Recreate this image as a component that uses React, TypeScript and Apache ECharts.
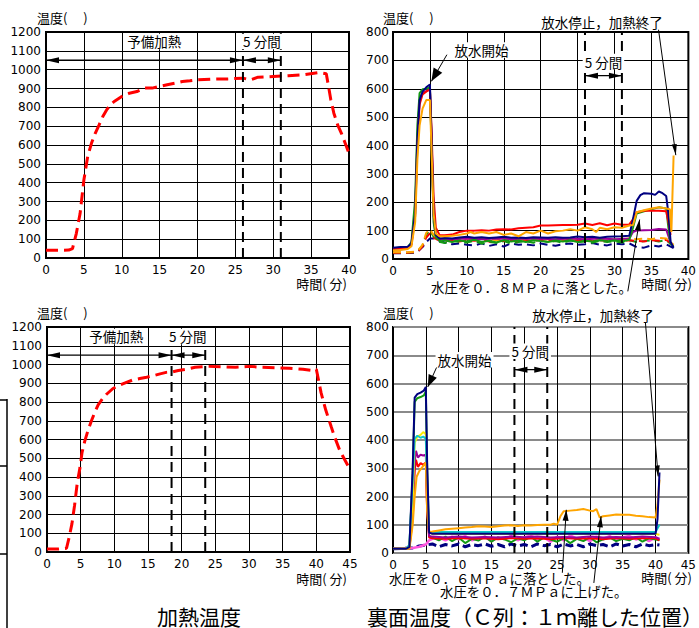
import React, { useEffect, useRef } from "react";
import * as echarts from "echarts";

// ---------- data ----------
const xTicks40 = [0, 40];
const xTicks45 = [0, 45];
const yHeatMax = 1200;
const yBackMax = 800;

// 加熱温度 (top, 40 min test)
const heatA: number[][] = [[0,41],[1,41],[2,41],[3,42],[3.5,50],[4,130],[4.5,236],[5,414],[5.5,538],[6,609],[6.5,662],[7,706],[7.5,751],[8,786],[8.5,813],[9,831],[10,857],[11,875],[12,884],[13,902],[14,902],[15,911],[16,920],[17,928],[18,937],[19,941],[20,946],[22,950],[24,951],[26,955],[27,946],[28,960],[30,964],[32,968],[34,973],[36,985],[37,978],[37.3,911],[37.6,840],[38,769],[38.5,707],[39,662],[39.5,609],[40,556]];
// 加熱温度 (bottom, 45 min test)
const heatB: number[][] = [[0,16],[1.6,16],[2.9,20],[3.3,80],[3.7,150],[4.1,250],[4.5,370],[4.9,450],[5.2,530],[5.6,590],[6.1,650],[6.6,700],[7.1,745],[7.6,785],[8.2,815],[8.8,840],[9.8,872],[10.8,890],[11.8,905],[12.8,918],[13.8,925],[14.8,932],[15.8,940],[16.8,950],[17.7,958],[18.5,960],[19.5,968],[20.7,975],[22,985],[24,990],[26,988],[28,985],[30,990],[32,985],[34,983],[36,980],[38,975],[39.5,968],[40,975],[40.7,850],[41.4,757],[42.2,669],[42.7,615],[43.5,540],[44.7,460],[45,450]];

// 裏面温度 (top, 0.8MPa)
const trNavy: number[][] = [[0,40],[1,42],[2,43],[2.5,55],[3,160],[3.3,420],[3.6,560],[4,590],[4.5,605],[5,615],[5.2,450],[5.5,160],[5.8,85],[6.3,72],[7,74],[8,72],[9,76],[10,78],[11,75],[12,77],[13,74],[14,76],[15,78],[16,75],[17,76],[18,74],[19,77],[20,76],[21,75],[22,77],[23,75],[24,76],[25,79],[26,77],[27,78],[28,75],[29,78],[30,79],[31,80],[32,82],[32.5,140],[33,205],[33.5,225],[34,232],[35,230],[35.5,226],[36,238],[36.5,232],[37,222],[37.3,160],[37.6,60],[38,40]];
const trRed: number[][] = [[0,36],[1,38],[2,40],[2.5,50],[3,150],[3.3,400],[3.6,545],[4,580],[4.5,590],[5,598],[5.2,470],[5.5,220],[5.8,110],[6.3,85],[7,84],[8,86],[9,95],[10,100],[11,100],[12,101],[13,100],[14,104],[15,105],[16,104],[17,108],[18,110],[19,112],[20,118],[21,118],[22,119],[23,120],[24,120],[25,121],[26,125],[27,120],[28,126],[29,119],[30,125],[31,121],[32,122],[32.5,140],[33,165],[34,170],[35,170],[36,170],[37,168],[37.3,130],[37.6,85]];
const trGreen: number[][] = [[0,38],[1,40],[2,42],[2.5,60],[3,210],[3.3,470],[3.6,585],[4,598],[4.5,600],[5,605],[5.2,420],[5.5,130],[5.8,75],[6.5,62],[7,66],[8,60],[9,65],[10,62],[11,68],[12,60],[13,64],[14,58],[15,66],[16,62],[17,65],[18,60],[19,66],[20,63],[21,60],[22,65],[23,62],[24,66],[25,60],[26,64],[27,62],[28,66],[29,63],[30,65],[31,62],[32,68],[32.5,110],[33,160],[34,168],[35,175],[36,182],[37,178],[37.3,110],[37.6,50]];
const trPurple: number[][] = [[0,36],[1,38],[2,41],[2.5,52],[3,180],[3.3,430],[3.6,560],[4,585],[4.5,592],[5,598],[5.2,440],[5.5,150],[5.8,80],[6.5,70],[8,70],[10,72],[12,70],[14,72],[16,70],[18,72],[20,71],[22,70],[24,72],[26,70],[28,72],[30,70],[32,72],[32.5,95],[33,100],[34,101],[35,102],[36,106],[37,104],[37.3,80],[37.6,55]];
const trOrange: number[][] = [[0,30],[1,32],[2,35],[2.5,45],[3,130],[3.3,350],[3.6,470],[4,530],[4.5,560],[5,560],[5.2,400],[5.5,160],[5.8,90],[6.3,80],[7,80],[8,82],[9,85],[10,90],[10.5,95],[11,90],[12,95],[13,90],[14,95],[15,85],[16,90],[17,80],[18,95],[19,90],[20,100],[21,90],[22,98],[23,100],[24,105],[25,100],[26,112],[27,105],[27.5,95],[28,110],[29,105],[30,112],[31,110],[32,118],[32.5,120],[33,165],[34,172],[35,178],[36,182],[37,178],[37.5,175],[37.7,95],[38,365]];
const trNavyD: number[][] = [[0,20],[1,20],[2,21],[3,22],[3.5,30],[4,42],[4.5,60],[5,72],[5.5,72],[6,66],[7,58],[8,52],[9,55],[10,50],[11,48],[12,55],[13,46],[14,52],[15,44],[16,55],[17,50],[18,52],[19,48],[20,55],[21,50],[22,47],[23,52],[24,55],[25,50],[26,52],[27,56],[28,50],[29,48],[30,54],[31,52],[32,55],[33,42],[34,40],[35,48],[36,44],[37,52],[38,38]];
const trGreenD: number[][] = [[0,22],[2,22],[3,24],[3.5,32],[4,48],[4.5,85],[5,102],[5.5,78],[6,62],[7,56],[8,66],[9,60],[10,58],[11,64],[12,54],[13,60],[14,57],[15,63],[16,55],[17,60],[18,63],[19,57],[20,66],[21,60],[22,63],[23,57],[24,65],[25,60],[26,62],[27,57],[28,64],[29,60],[30,63],[31,58],[32,66],[33,60],[34,63],[35,66],[36,62],[37,66],[38,45]];
const trRedD: number[][] = [[0,22],[2,22],[3,24],[3.5,30],[4,45],[4.5,75],[5,90],[5.5,75],[6,68],[7,64],[8,66],[9,62],[10,66],[11,64],[12,68],[13,62],[14,65],[15,63],[16,67],[17,62],[18,66],[19,64],[20,68],[21,63],[22,66],[23,64],[24,68],[25,65],[26,67],[27,63],[28,66],[29,64],[30,68],[31,65],[32,66],[33,64],[34,62],[35,66],[36,64],[37,68],[38,48]];
const trOrangeD: number[][] = [[0,24],[2,24],[3,26],[3.5,34],[4,50],[4.5,92],[5,105],[5.5,85],[6,72],[7,70],[8,68],[9,72],[10,70],[11,68],[12,72],[13,70],[14,66],[15,70],[16,72],[17,68],[18,70],[19,72],[20,68],[21,70],[22,72],[23,69],[24,70],[25,72],[26,68],[27,70],[28,72],[29,70],[30,68],[31,70],[32,72],[33,70],[34,72],[35,70],[36,74],[37,72],[38,50]];

// 裏面温度 (bottom, 0.6 / 0.7MPa)
const brNavy: number[][] = [[0,15],[1,15],[2,15],[2.5,22],[3,300],[3.3,550],[3.7,562],[4.2,568],[4.7,575],[5,588],[5.2,320],[5.5,72],[6,68],[10,68],[15,68],[20,68],[25,68],[30,68],[35,68],[40,68],[40.3,120],[40.6,285]];
const brGreen: number[][] = [[0,15],[2,15],[2.5,22],[3,280],[3.3,535],[3.7,548],[4.2,552],[4.7,558],[5,572],[5.2,300],[5.5,60],[6,55],[7,45],[8,58],[9,42],[10,55],[11,35],[12,50],[13,44],[14,58],[15,40],[16,55],[17,48],[18,38],[19,52],[20,45],[21,58],[22,40],[23,55],[24,48],[25,40],[26,52],[27,35],[28,50],[29,42],[30,56],[31,38],[32,48],[33,55],[34,42],[35,50],[36,45],[37,56],[38,40],[39,52],[40,48],[40.6,45]];
const brYellow: number[][] = [[0,15],[2,15],[2.5,25],[3,180],[3.3,390],[3.7,412],[4.2,418],[4.6,428],[5,420],[5.2,230],[5.5,75],[6,68],[10,67],[15,68],[20,67],[25,68],[30,67],[35,68],[40,67],[40.6,65]];
const brCyan: number[][] = [[0,15],[2,15],[2.5,30],[3,260],[3.3,405],[3.7,415],[4.2,408],[4.6,412],[5,405],[5.2,220],[5.5,75],[6,74],[10,74],[15,74],[20,74],[25,74],[30,74],[35,74],[40,74],[40.6,100]];
const brPurple: number[][] = [[0,15],[2,15],[2.5,22],[3,160],[3.3,320],[3.5,362],[3.8,338],[4.2,348],[4.6,345],[5,348],[5.2,160],[5.5,60],[6,58],[8,55],[10,58],[12,55],[14,57],[16,55],[18,58],[20,56],[22,58],[24,55],[26,57],[28,55],[30,58],[32,55],[34,57],[36,55],[38,58],[40,56],[40.6,50]];
const brRed: number[][] = [[0,15],[2,15],[2.5,20],[3,120],[3.3,290],[3.5,330],[3.8,305],[4.2,318],[4.6,312],[5,320],[5.2,150],[5.5,55],[6,52],[8,50],[10,53],[12,50],[14,52],[16,49],[18,53],[20,50],[22,52],[24,49],[26,53],[28,50],[30,52],[32,49],[34,53],[36,50],[38,52],[40,52],[40.6,45]];
const brOrange: number[][] = [[0,15],[2.5,15],[3,100],[3.3,200],[3.6,270],[4,290],[4.5,305],[5,320],[5.2,150],[5.5,75],[6,76],[7,80],[8,84],[9,86],[10,88],[11,90],[12,92],[13,95],[14,94],[15,92],[16,95],[17,97],[18,98],[19,96],[20,98],[21,97],[22,99],[23,100],[24,100],[24.5,104],[25,100],[25.5,130],[26,148],[27,150],[28,152],[29,156],[30,150],[30.5,148],[31,155],[31.5,125],[32,130],[33,133],[34,136],[35,135],[36,135],[37,132],[38,130],[39,127],[40,126],[40.3,170],[40.6,260]];
const brPink: number[][] = [[0,15],[3,18],[4,22],[5,30],[5.5,45],[6,50],[7,55],[8,45],[9,58],[10,48],[11,60],[12,45],[13,52],[14,58],[15,42],[16,55],[17,50],[18,60],[19,45],[20,55],[21,62],[22,48],[23,55],[24,40],[25,58],[26,45],[27,62],[28,50],[29,55],[30,42],[31,58],[32,50],[33,60],[34,45],[35,55],[36,60],[37,48],[38,55],[39,42],[40,55],[40.6,50]];
const brNavyD: number[][] = [[0,15],[3,18],[4,25],[5,28],[6,32],[7,22],[8,30],[9,25],[10,32],[11,22],[12,30],[13,26],[14,32],[15,24],[16,30],[17,22],[18,32],[19,25],[20,30],[21,22],[22,32],[23,26],[24,30],[25,22],[26,32],[27,25],[28,30],[29,22],[30,32],[31,26],[32,30],[33,22],[34,32],[35,25],[36,30],[37,22],[38,32],[39,26],[40,30],[40.6,28]];

const C = {
  red: "#ff0000", navy: "#000080", green: "#139a13", orange: "#ffa500",
  purple: "#990099", pink: "#ff55dd", cyan: "#11c8c8", yellow: "#ffee00",
};

const NUM_FONT = "DejaVu Sans";
const JP_FONT = "'Noto Sans CJK JP', sans-serif";

export default function App() {
  const ref = useRef<HTMLDivElement>(null);
  useEffect(() => {
    document.body.style.margin = "0";
    const chart = echarts.init(ref.current!, null, { renderer: "svg" });

    const grids = [
      { left: 46, top: 32, width: 303, height: 226 },
      { left: 393, top: 32, width: 300, height: 227 },
      { left: 47, top: 327, width: 303, height: 225 },
      { left: 393, top: 327, width: 303, height: 226 },
    ];
    const xMax = [xTicks40[1], xTicks40[1], xTicks45[1], xTicks45[1]];
    const yMax = [yHeatMax, yBackMax, yHeatMax, yBackMax];

    const ln = (data: number[][], g: number, color: string, width: number, dash?: number[]) => ({
      type: "line", xAxisIndex: g, yAxisIndex: g, data, symbol: "none", silent: true,
      lineStyle: { color, width, type: dash || "solid" }, itemStyle: { color },
    });

    const option: any = {
      animation: false,
      grid: grids.map((g) => ({ ...g, show: true, borderColor: "#000", borderWidth: 2, backgroundColor: "transparent" })),
      xAxis: grids.map((_, i) => ({
        type: "value", gridIndex: i, min: 0, max: xMax[i], interval: 5,
        axisLine: { show: false }, axisTick: { show: false },
        axisLabel: { color: "#000", fontFamily: NUM_FONT, fontSize: 12, margin: 6, showMaxLabel: true,
          formatter: (v: number) => String(v) },
        splitLine: { show: true, lineStyle: { color: "#000", width: 1 } },
      })),
      yAxis: grids.map((_, i) => ({
        type: "value", gridIndex: i, min: 0, max: yMax[i], interval: 100,
        axisLine: { show: false }, axisTick: { show: false },
        axisLabel: { color: "#000", fontFamily: NUM_FONT, fontSize: 12, margin: i % 2 ? 4 : 5,
          formatter: (v: number) => String(v) },
        splitLine: { show: true, lineStyle: i === 3 ? { color: "#8a8a8a", width: 2 } : { color: "#000", width: 1 } },
      })),
      series: [
        ln(heatA, 0, C.red, 3, [12, 6]),
        ln(heatB, 2, C.red, 3, [12, 6]),
        ln(trNavyD, 1, C.navy, 2, [8, 5]),
        ln(trGreenD, 1, C.green, 2, [8, 5]),
        ln(trRedD, 1, C.red, 2, [8, 5]),
        ln(trOrangeD, 1, C.orange, 2, [8, 5]),
        ln(trPurple, 1, C.purple, 2),
        ln(trGreen, 1, C.green, 2),
        ln(trRed, 1, C.red, 2),
        ln(trNavy, 1, C.navy, 2),
        ln(trOrange, 1, C.orange, 2),
        ln(brNavyD, 3, C.navy, 3, [8, 4]),
        ln(brPink, 3, C.pink, 2.5),
        ln(brGreen, 3, C.green, 2),
        ln(brRed, 3, C.red, 2),
        ln(brPurple, 3, C.purple, 2),
        ln(brYellow, 3, C.yellow, 2),
        ln(brCyan, 3, C.cyan, 2),
        ln(brOrange, 3, C.orange, 2),
        ln(brNavy, 3, C.navy, 2),
      ],
    };
    chart.setOption(option);

    const cp = (g: number, x: number, y: number) =>
      chart.convertToPixel({ gridIndex: g } as any, [x, y]) as unknown as number[];

    const els: any[] = [];
    const Z = 100;
    const text = (x: number, y: number, s: string, o: any = {}) =>
      els.push({
        type: "text", z: Z + 2, silent: true,
        style: {
          text: s, x, y, fill: "#000", font: `${o.size || 13}px ${o.font || JP_FONT}`,
          textAlign: o.align || "center", align: o.align || "center",
          textVerticalAlign: "middle", verticalAlign: "middle",
          backgroundColor: o.bg ? "#fff" : undefined, padding: o.bg ? [1, 2] : undefined,
        },
      });
    const head = (tip: number[], from: number[], len: number, hw: number) => {
      const dx = tip[0] - from[0], dy = tip[1] - from[1];
      const d = Math.hypot(dx, dy) || 1;
      const ux = dx / d, uy = dy / d;
      const bx = tip[0] - ux * len, by = tip[1] - uy * len;
      els.push({
        type: "polygon", z: Z + 1, silent: true,
        shape: { points: [tip, [bx - uy * hw, by + ux * hw], [bx + uy * hw, by - ux * hw]] },
        style: { fill: "#000" },
      });
    };
    const seg = (a: number[], b: number[], w: number, dash?: number[]) =>
      els.push({
        type: "line", z: Z, silent: true,
        shape: { x1: a[0], y1: a[1], x2: b[0], y2: b[1] },
        style: { stroke: "#000", lineWidth: w, lineDash: dash },
      });
    const vdash = (g: number, x: number) => seg(cp(g, x, 0), cp(g, x, yMax[g]), 2, [10, 6]);
    const dbl = (g: number, x0: number, x1: number, y: number) => {
      const a = cp(g, x0, y), b = cp(g, x1, y);
      seg(a, b, 1.3);
      head(a, b, 13, 3);
      head(b, a, 13, 3);
    };
    const arrow = (g: number, from: number[], to: number[], len = 11, hw = 3.5) => {
      const a = cp(g, from[0], from[1]), b = cp(g, to[0], to[1]);
      seg(a, b, 1);
      head(b, a, len, hw);
    };
    const at = (g: number, x: number, y: number) => cp(g, x, y);

    // Panel 0
    vdash(0, 26); vdash(0, 31);
    dbl(0, 0, 26, 1050); dbl(0, 26, 31, 1050);
    { const p = at(0, 14.3, 1150); text(p[0], p[1], "予備加熱", { bg: true, size: 13.5 }); }
    { const p = at(0, 28.5, 1150); text(p[0], p[1], "5 分間", { bg: true, size: 13.5 }); }
    // Panel 2
    vdash(2, 18.5); vdash(2, 23.5);
    dbl(2, 0, 18.5, 1050); dbl(2, 18.5, 23.5, 1050);
    { const p = at(2, 10.3, 1150); text(p[0], p[1], "予備加熱", { bg: true, size: 13.5 }); }
    { const p = at(2, 20.9, 1150); text(p[0], p[1], "5 分間", { bg: true, size: 13.5 }); }
    // Panel 1
    vdash(1, 26); vdash(1, 31);
    dbl(1, 26, 31, 646);
    { const p = at(1, 28.5, 696); text(p[0], p[1], "5 分間", { bg: true, size: 13.5 }); }
    { const p = at(1, 12, 737); text(p[0], p[1], "放水開始", { bg: true, size: 13.5 }); }
    arrow(1, [7.3, 720], [5.2, 626], 13, 5);
    text(602, 22, "放水停止，加熱終了", { bg: true, size: 13.5 });
    arrow(1, [35.9, 819], [38.3, 366], 11, 2.5);
    text(431, 287, "水圧を０．８ＭＰａに落とした。", { align: "left", size: 13.4 });
    arrow(1, [31.8, -114], [33.4, 139], 11, 3);
    // Panel 3
    vdash(3, 18.5); vdash(3, 23.5);
    dbl(3, 18.5, 23.5, 649);
    { const p = at(3, 20.9, 714); text(p[0], p[1], "5 分間", { bg: true, size: 13.5 }); }
    { const p = at(3, 10.9, 684); text(p[0], p[1], "放水開始", { bg: true, size: 13.5 }); }
    arrow(3, [6.7, 660], [5.3, 588], 12, 4.5);
    text(593, 315, "放水停止，加熱終了", { bg: true, size: 13.5 });
    arrow(3, [38.4, 832], [40.4, 271], 11, 2.5);
    text(389, 578, "水圧を０．６ＭＰａに落とした。", { align: "left", size: 13.4 });
    arrow(3, [25.8, -70], [26.4, 153], 11, 3);
    text(440, 591, "水圧を０．７ＭＰａに上げた。", { align: "left", size: 13.4 });
    arrow(3, [30.6, -106], [31.7, 130], 11, 3);

    // axis names
    text(37, 17, "温度(　 )", { align: "left", size: 13 });
    text(383, 17, "温度(　 )", { align: "left", size: 13 });
    text(37, 312, "温度(　 )", { align: "left", size: 13 });
    text(383, 312, "温度(　 )", { align: "left", size: 13 });
    text(349, 283, "時間( 分)", { align: "right", size: 13, bg: true });
    text(694, 283, "時間( 分)", { align: "right", size: 13, bg: true });
    text(349, 578, "時間( 分)", { align: "right", size: 13, bg: true });
    text(694, 577, "時間( 分)", { align: "right", size: 13, bg: true });

    // captions
    text(199, 616, "加熱温度", { size: 21 });
    text(367, 616, "裏面温度（Ｃ列：１ｍ離した位置）", { align: "left", size: 21 });

    // cropped table edge at the far left
    seg([7, 399], [7, 628], 1.5);
    seg([0, 400], [7, 400], 1.5);
    seg([0, 466], [7, 466], 1.5);
    seg([0, 554], [7, 554], 1.5);

    chart.setOption({ graphic: { elements: els } });
    return () => chart.dispose();
  }, []);
  return <div ref={ref} style={{ position: "absolute", left: 0, top: 0, width: 699, height: 628, background: "#fff" }} />;
}
